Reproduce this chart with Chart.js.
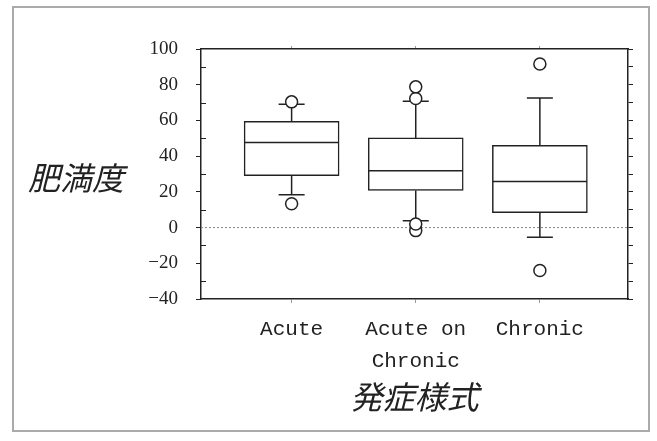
<!DOCTYPE html>
<html>
<head>
<meta charset="utf-8">
<script src="https://cdn.jsdelivr.net/npm/chart.js@4"></script>
<style>
  body { margin: 0; background: #fff; }
  #wrap { position: relative; width: 657px; height: 441px; }
  #frame { position: absolute; left: 12px; top: 6px; width: 638px; height: 426px; box-sizing: border-box; border: 2px solid #aaa; pointer-events: none; }
  #ytitle { position: absolute; left: 28px; top: 160px; font: italic 32px "Noto Sans CJK JP"; line-height: 1; color: #222; }
</style>
</head>
<body>
<div id="wrap">
  <canvas id="grafico" width="657" height="441"></canvas>
  <div id="frame"></div>
  <div id="ytitle">肥満度</div>
</div>
<script>
// categorias e valores
const categorias = ['Acute', ['Acute on', 'Chronic'], 'Chronic'];
const q1 = [29, 20.8, 8.4];
const mediana = [47.6, 31.8, 25.8];
const q3 = [59.5, 50.2, 46];
const bigodeInf = [18.4, 3.8, -5.4];
const bigodeSup = [69, 70.8, 72.6];
const outliers = [[13.3, 70.4], [-1.7, 2, 72.3, 78.8], [-24, 91.6]];
const yMin = -40, yMax = 100, yPasso = 20;
const xMin = 0.27, xMax = 3.71;

const cor = '#222';

// bigodes, traços e medianas desenhados pelas escalas
const plugBox = {
    id: 'plugBox',
    beforeDatasetsDraw(chart) {
        const { ctx, scales: { x, y } } = chart;
        ctx.save();
        ctx.strokeStyle = cor;
        ctx.lineWidth = 1.5;
        categorias.forEach((c, i) => {
            const px = x.getPixelForValue(i + 1);
            [[q3[i], bigodeSup[i]], [q1[i], bigodeInf[i]]].forEach(([a, b]) => {
                ctx.beginPath();
                ctx.moveTo(px, y.getPixelForValue(a));
                ctx.lineTo(px, y.getPixelForValue(b));
                ctx.moveTo(px - 13, y.getPixelForValue(b));
                ctx.lineTo(px + 13, y.getPixelForValue(b));
                ctx.stroke();
            });
        });
        ctx.restore();
    },
    afterDatasetDraw(chart, args) {
        if (args.index !== 0) return;
        const { ctx, scales: { x, y } } = chart;
        ctx.save();
        ctx.strokeStyle = cor;
        ctx.lineWidth = 1.5;
        categorias.forEach((c, i) => {
            const px = x.getPixelForValue(i + 1);
            const py = y.getPixelForValue(mediana[i]);
            ctx.beginPath();
            ctx.moveTo(px - 47, py);
            ctx.lineTo(px + 47, py);
            ctx.stroke();
        });
        ctx.restore();
    },
    afterDraw(chart) {
        // marcas menores internas no eixo esquerdo
        const { ctx, scales: { y } } = chart;
        ctx.save();
        ctx.strokeStyle = cor;
        ctx.lineWidth = 1;
        for (let v = yMin + yPasso / 2; v < yMax; v += yPasso) {
            const py = Math.round(y.getPixelForValue(v)) + 0.5;
            ctx.beginPath();
            ctx.moveTo(y.right, py);
            ctx.lineTo(y.right + 5, py);
            ctx.stroke();
        }
        ctx.restore();
    }
};

const pontosOut = [];
outliers.forEach((lista, i) => lista.forEach(v => pontosOut.push({ x: i + 1, y: v })));

const ticksX = scale => { scale.ticks = categorias.map((c, i) => ({ value: i + 1 })); };

new Chart(document.getElementById('grafico'), {
    type: 'bar',
    data: {
        datasets: [
            {
                type: 'bar',
                data: categorias.map((c, i) => ({ x: i + 1, y: [q1[i], q3[i]] })),
                backgroundColor: '#fff',
                borderColor: cor,
                borderWidth: 1.5,
                borderSkipped: false,
                barThickness: 95,
                order: 2
            },
            {
                type: 'scatter',
                data: pontosOut,
                pointStyle: 'circle',
                pointRadius: 6,
                pointBackgroundColor: '#fff',
                pointBorderColor: cor,
                pointBorderWidth: 1.5,
                order: 0
            },
            {
                type: 'line',
                data: [{ x: xMin, y: 0 }, { x: xMax, y: 0 }],
                borderColor: '#888',
                borderWidth: 1,
                borderDash: [2, 2],
                pointRadius: 0,
                order: 3
            }
        ]
    },
    options: {
        responsive: false,
        animation: false,
        layout: { padding: { left: 141, right: 21, top: 43, bottom: 24 } },
        plugins: { legend: { display: false }, tooltip: { enabled: false } },
        scales: {
            x: {
                type: 'linear',
                position: 'bottom',
                offset: false,
                min: xMin,
                max: xMax,
                afterBuildTicks: ticksX,
                afterFit: s => { s.height = 118; },
                grid: { drawOnChartArea: false, offset: false, tickLength: 4, color: '#999' },
                border: { color: cor, width: 1.5 },
                ticks: {
                    padding: 11,
                    color: cor,
                    font: { family: 'Liberation Mono', size: 21, lineHeight: 1.5 },
                    callback: v => categorias[v - 1]
                },
                title: {
                    display: true,
                    text: '発症様式',
                    color: cor,
                    padding: { top: 0, bottom: 1 },
                    font: { family: 'Noto Sans CJK JP', size: 32, style: 'italic', lineHeight: 1.2 }
                }
            },
            x2: {
                type: 'linear',
                position: 'top',
                offset: false,
                min: xMin,
                max: xMax,
                afterBuildTicks: ticksX,
                afterFit: s => { s.height = 6; },
                grid: { drawOnChartArea: false, offset: false, tickLength: 3, color: '#999' },
                border: { color: cor, width: 1.5 },
                ticks: { display: false }
            },
            y: {
                position: 'left',
                min: yMin,
                max: yMax,
                afterFit: s => { s.width = 60; },
                grid: { drawOnChartArea: false, tickLength: 5, color: cor },
                border: { color: cor, width: 1.5 },
                ticks: {
                    stepSize: yPasso,
                    padding: 18,
                    color: cor,
                    font: { family: 'Liberation Serif', size: 19 },
                    callback: v => (v < 0 ? '\u2212' + Math.abs(v) : String(v))
                }
            },
            yr: {
                position: 'right',
                min: yMin,
                max: yMax,
                afterFit: s => { s.width = 8; },
                grid: { drawOnChartArea: false, tickLength: 5, color: cor },
                border: { color: cor, width: 1.5 },
                ticks: { stepSize: yPasso / 2, display: false }
            }
        }
    },
    plugins: [plugBox]
});
</script>
</body>
</html>
